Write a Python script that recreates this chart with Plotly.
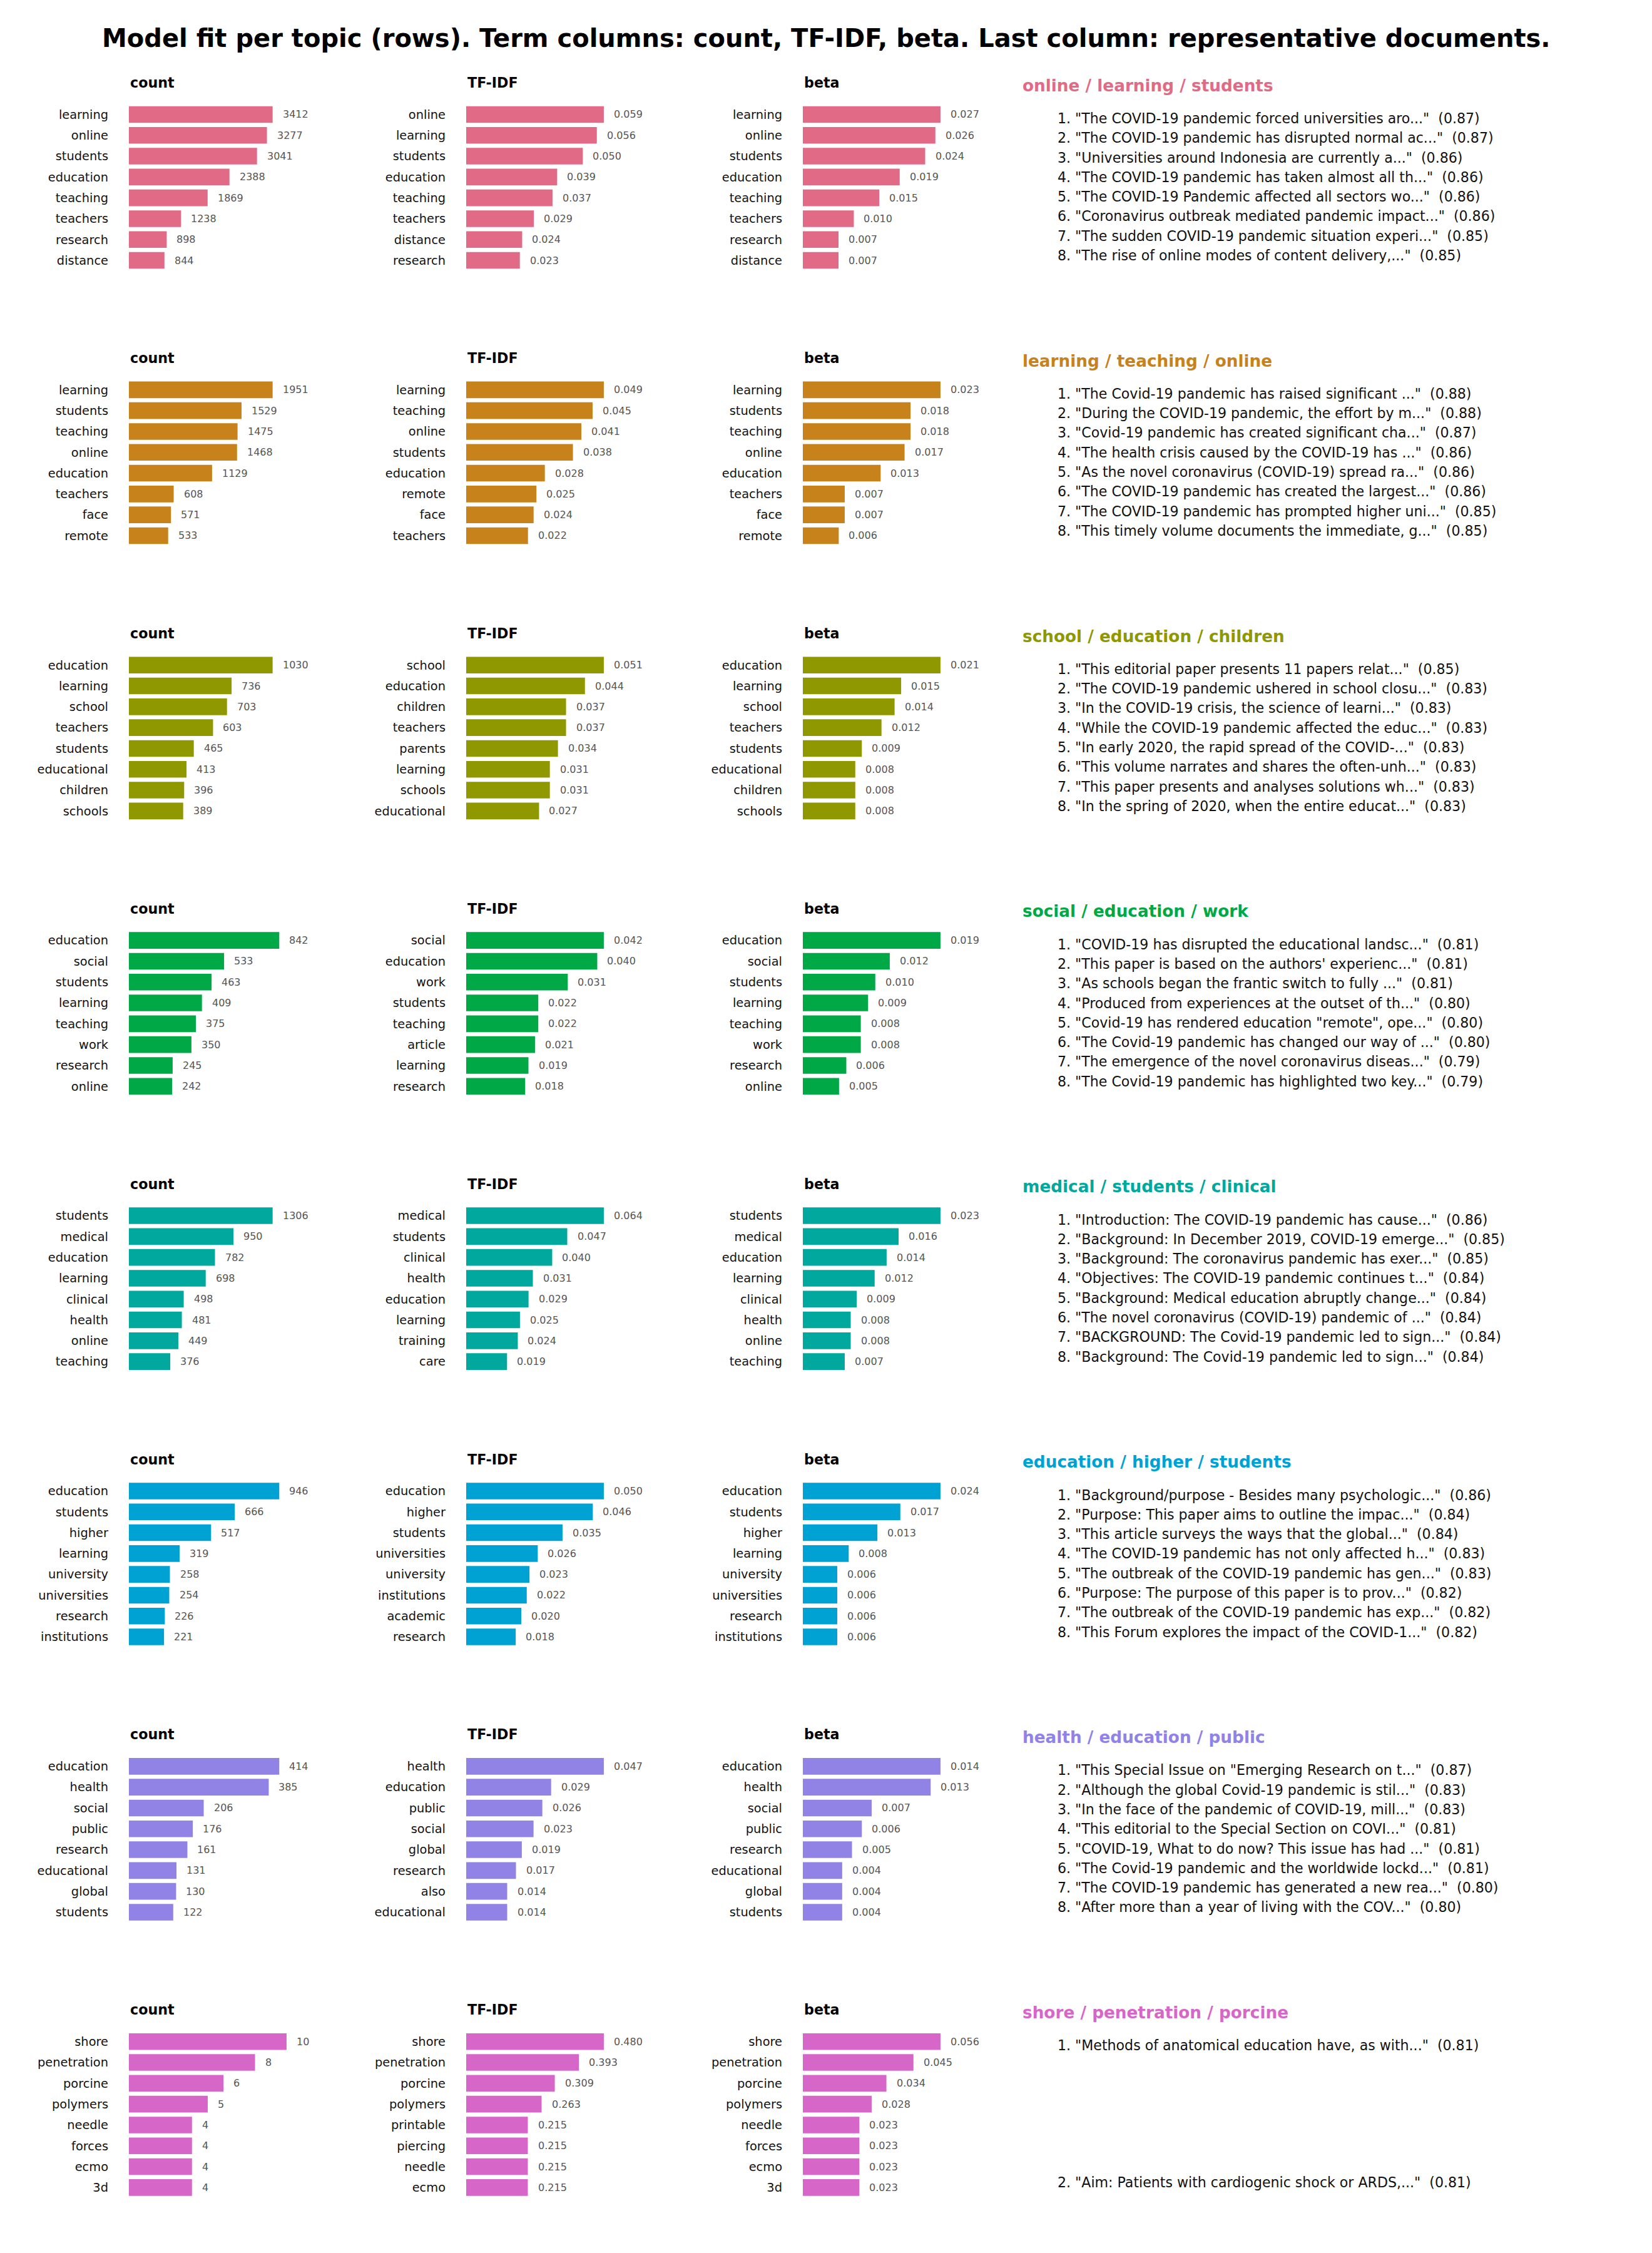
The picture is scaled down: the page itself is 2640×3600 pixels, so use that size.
import plotly.graph_objects as go

# ---------------- data ----------------
topic_labels = [
    "online / learning / students",
    "learning / teaching / online",
    "school / education / children",
    "social / education / work",
    "medical / students / clinical",
    "education / higher / students",
    "health / education / public",
    "shore / penetration / porcine",
]
topic_colors = ["#E16A86", "#C7821C", "#909800", "#00A846",
                "#00A89D", "#00A2D3", "#9183E6", "#D766C9"]

count_terms = [
    ["learning", "online", "students", "education", "teaching", "teachers", "research", "distance"],
    ["learning", "students", "teaching", "online", "education", "teachers", "face", "remote"],
    ["education", "learning", "school", "teachers", "students", "educational", "children", "schools"],
    ["education", "social", "students", "learning", "teaching", "work", "research", "online"],
    ["students", "medical", "education", "learning", "clinical", "health", "online", "teaching"],
    ["education", "students", "higher", "learning", "university", "universities", "research", "institutions"],
    ["education", "health", "social", "public", "research", "educational", "global", "students"],
    ["shore", "penetration", "porcine", "polymers", "needle", "forces", "ecmo", "3d"],
]
count_values = [
    [3412, 3277, 3041, 2388, 1869, 1238, 898, 844],
    [1951, 1529, 1475, 1468, 1129, 608, 571, 533],
    [1030, 736, 703, 603, 465, 413, 396, 389],
    [842, 533, 463, 409, 375, 350, 245, 242],
    [1306, 950, 782, 698, 498, 481, 449, 376],
    [946, 666, 517, 319, 258, 254, 226, 221],
    [414, 385, 206, 176, 161, 131, 130, 122],
    [10, 8, 6, 5, 4, 4, 4, 4],
]
tfidf_terms = [
    ["online", "learning", "students", "education", "teaching", "teachers", "distance", "research"],
    ["learning", "teaching", "online", "students", "education", "remote", "face", "teachers"],
    ["school", "education", "children", "teachers", "parents", "learning", "schools", "educational"],
    ["social", "education", "work", "students", "teaching", "article", "learning", "research"],
    ["medical", "students", "clinical", "health", "education", "learning", "training", "care"],
    ["education", "higher", "students", "universities", "university", "institutions", "academic", "research"],
    ["health", "education", "public", "social", "global", "research", "also", "educational"],
    ["shore", "penetration", "porcine", "polymers", "printable", "piercing", "needle", "ecmo"],
]
tfidf_values = [
    [0.059, 0.056, 0.050, 0.039, 0.037, 0.029, 0.024, 0.023],
    [0.049, 0.045, 0.041, 0.038, 0.028, 0.025, 0.024, 0.022],
    [0.051, 0.044, 0.037, 0.037, 0.034, 0.031, 0.031, 0.027],
    [0.042, 0.040, 0.031, 0.022, 0.022, 0.021, 0.019, 0.018],
    [0.064, 0.047, 0.040, 0.031, 0.029, 0.025, 0.024, 0.019],
    [0.050, 0.046, 0.035, 0.026, 0.023, 0.022, 0.020, 0.018],
    [0.047, 0.029, 0.026, 0.023, 0.019, 0.017, 0.014, 0.014],
    [0.480, 0.393, 0.309, 0.263, 0.215, 0.215, 0.215, 0.215],
]
beta_terms = [
    ["learning", "online", "students", "education", "teaching", "teachers", "research", "distance"],
    ["learning", "students", "teaching", "online", "education", "teachers", "face", "remote"],
    ["education", "learning", "school", "teachers", "students", "educational", "children", "schools"],
    ["education", "social", "students", "learning", "teaching", "work", "research", "online"],
    ["students", "medical", "education", "learning", "clinical", "health", "online", "teaching"],
    ["education", "students", "higher", "learning", "university", "universities", "research", "institutions"],
    ["education", "health", "social", "public", "research", "educational", "global", "students"],
    ["shore", "penetration", "porcine", "polymers", "needle", "forces", "ecmo", "3d"],
]
beta_values = [
    [0.027, 0.026, 0.024, 0.019, 0.015, 0.010, 0.007, 0.007],
    [0.023, 0.018, 0.018, 0.017, 0.013, 0.007, 0.007, 0.006],
    [0.021, 0.015, 0.014, 0.012, 0.009, 0.008, 0.008, 0.008],
    [0.019, 0.012, 0.010, 0.009, 0.008, 0.008, 0.006, 0.005],
    [0.023, 0.016, 0.014, 0.012, 0.009, 0.008, 0.008, 0.007],
    [0.024, 0.017, 0.013, 0.008, 0.006, 0.006, 0.006, 0.006],
    [0.014, 0.013, 0.007, 0.006, 0.005, 0.004, 0.004, 0.004],
    [0.056, 0.045, 0.034, 0.028, 0.023, 0.023, 0.023, 0.023],
]
doc_snippets = [
    ["The COVID-19 pandemic forced universities aro...",
     "The COVID-19 pandemic has disrupted normal ac...",
     "Universities around Indonesia are currently a...",
     "The COVID-19 pandemic has taken almost all th...",
     "The COVID-19 Pandemic affected all sectors wo...",
     "Coronavirus outbreak mediated pandemic impact...",
     "The sudden COVID-19 pandemic situation experi...",
     "The rise of online modes of content delivery,..."],
    ["The Covid-19 pandemic has raised significant ...",
     "During the COVID-19 pandemic, the effort by m...",
     "Covid-19 pandemic has created significant cha...",
     "The health crisis caused by the COVID-19 has ...",
     "As the novel coronavirus (COVID-19) spread ra...",
     "The COVID-19 pandemic has created the largest...",
     "The COVID-19 pandemic has prompted higher uni...",
     "This timely volume documents the immediate, g..."],
    ["This editorial paper presents 11 papers relat...",
     "The COVID-19 pandemic ushered in school closu...",
     "In the COVID-19 crisis, the science of learni...",
     "While the COVID-19 pandemic affected the educ...",
     "In early 2020, the rapid spread of the COVID-...",
     "This volume narrates and shares the often-unh...",
     "This paper presents and analyses solutions wh...",
     "In the spring of 2020, when the entire educat..."],
    ["COVID-19 has disrupted the educational landsc...",
     "This paper is based on the authors' experienc...",
     "As schools began the frantic switch to fully ...",
     "Produced from experiences at the outset of th...",
     'Covid-19 has rendered education "remote", ope...',
     "The Covid-19 pandemic has changed our way of ...",
     "The emergence of the novel coronavirus diseas...",
     "The Covid-19 pandemic has highlighted two key..."],
    ["Introduction: The COVID-19 pandemic has cause...",
     "Background: In December 2019, COVID-19 emerge...",
     "Background: The coronavirus pandemic has exer...",
     "Objectives: The COVID-19 pandemic continues t...",
     "Background: Medical education abruptly change...",
     "The novel coronavirus (COVID-19) pandemic of ...",
     "BACKGROUND: The Covid-19 pandemic led to sign...",
     "Background: The Covid-19 pandemic led to sign..."],
    ["Background/purpose - Besides many psychologic...",
     "Purpose: This paper aims to outline the impac...",
     "This article surveys the ways that the global...",
     "The COVID-19 pandemic has not only affected h...",
     "The outbreak of the COVID-19 pandemic has gen...",
     "Purpose: The purpose of this paper is to prov...",
     "The outbreak of the COVID-19 pandemic has exp...",
     "This Forum explores the impact of the COVID-1..."],
    ['This Special Issue on "Emerging Research on t...',
     "Although the global Covid-19 pandemic is stil...",
     "In the face of the pandemic of COVID-19, mill...",
     "This editorial to the Special Section on COVI...",
     "COVID-19, What to do now? This issue has had ...",
     "The Covid-19 pandemic and the worldwide lockd...",
     "The COVID-19 pandemic has generated a new rea...",
     "After more than a year of living with the COV..."],
    ["Methods of anatomical education have, as with...",
     "Aim: Patients with cardiogenic shock or ARDS,..."],
]
doc_scores = [
    [0.87, 0.87, 0.86, 0.86, 0.86, 0.86, 0.85, 0.85],
    [0.88, 0.88, 0.87, 0.86, 0.86, 0.86, 0.85, 0.85],
    [0.85, 0.83, 0.83, 0.83, 0.83, 0.83, 0.83, 0.83],
    [0.81, 0.81, 0.81, 0.80, 0.80, 0.80, 0.79, 0.79],
    [0.86, 0.85, 0.85, 0.84, 0.84, 0.84, 0.84, 0.84],
    [0.86, 0.84, 0.84, 0.83, 0.83, 0.82, 0.82, 0.82],
    [0.87, 0.83, 0.83, 0.81, 0.81, 0.81, 0.80, 0.80],
    [0.81, 0.81],
]
column_titles = ["count", "TF-IDF", "beta"]
main_title = ("Model fit per topic (rows). Term columns: count, TF-IDF, beta. "
              "Last column: representative documents.")

# ---------------- layout geometry (page pixels) ----------------
PAGE_W, PAGE_H = 2640, 3600
OFF = 8  # default page body margin
FW, FH = PAGE_W - 2 * OFF, PAGE_H - 2 * OFF
FONT = "DejaVu Sans"
row_top0 = 166.3
row_step = 439.9
axis_h = 266.4
col_x0 = [206, 745, 1283]
axis_w = 279
text_title_x = 1632
doc_x = 1688


def px_x(px):
    return (px - OFF) / FW


def px_y(py):
    return 1 - (py - OFF) / FH


def fmt(col, v):
    return str(int(v)) if col == 0 else f"{v:.3f}"


fig = go.Figure()
annotations = []
layout_axes = {}

for r in range(8):
    top = row_top0 + r * row_step
    color = topic_colors[r]
    cols = [(count_terms[r], count_values[r]),
            (tfidf_terms[r], tfidf_values[r]),
            (beta_terms[r], beta_values[r])]
    for c, (terms, vals) in enumerate(cols):
        idx = r * 3 + c + 1
        xa = "x" if idx == 1 else f"x{idx}"
        ya = "y" if idx == 1 else f"y{idx}"
        fig.add_trace(go.Bar(
            x=vals, y=terms, orientation="h", width=0.8,
            marker=dict(color=color, line=dict(width=0)),
            xaxis=xa, yaxis=ya, showlegend=False, hoverinfo="skip",
        ))
        vmax = max(vals)
        xmax = vmax * (1 + 0.0537 * len(fmt(c, vmax)))
        layout_axes["xaxis" if idx == 1 else f"xaxis{idx}"] = dict(
            domain=[px_x(col_x0[c]), px_x(col_x0[c] + axis_w)],
            range=[0, xmax], anchor=ya,
            showgrid=False, zeroline=False, showline=False,
            showticklabels=False, ticks="", fixedrange=True,
        )
        layout_axes["yaxis" if idx == 1 else f"yaxis{idx}"] = dict(
            domain=[px_y(top + axis_h), px_y(top)],
            anchor=xa, type="category", autorange="reversed",
            showgrid=False, zeroline=False, showline=False, ticks="",
            ticklabelstandoff=32,
            tickfont=dict(family=FONT, size=19.4, color="#111111"),
        )
        for t, v in zip(terms, vals):
            annotations.append(dict(
                x=v, y=t, xref=xa, yref=ya, text=fmt(c, v),
                showarrow=False, xanchor="left", yanchor="middle", xshift=14,
                font=dict(family=FONT, size=16, color="#555555"),
            ))
        annotations.append(dict(
            x=px_x(col_x0[c]), y=px_y(top - 34.3), xref="paper", yref="paper",
            text=f"<b>{column_titles[c]}</b>", showarrow=False,
            xanchor="left", yanchor="middle",
            font=dict(family=FONT, size=22.2, color="#000000"),
        ))
    # text column
    annotations.append(dict(
        x=px_x(text_title_x), y=px_y(top - 29.5), xref="paper", yref="paper",
        text=f"<b>{topic_labels[r]}</b>", showarrow=False,
        xanchor="left", yanchor="middle",
        font=dict(family=FONT, size=26.3, color=color),
    ))
    n = len(doc_snippets[r])
    y_first, y_last = top + 22.7, top + 241.7
    for i, (s, sc) in enumerate(zip(doc_snippets[r], doc_scores[r])):
        yy = y_first + (y_last - y_first) * (i / (n - 1) if n > 1 else 0)
        annotations.append(dict(
            x=px_x(doc_x), y=px_y(yy), xref="paper", yref="paper",
            text=f'{i + 1}. "{s}"\u00a0\u00a0({sc:.2f})', showarrow=False,
            xanchor="left", yanchor="middle",
            font=dict(family=FONT, size=22.1, color="#111111"),
        ))

annotations.append(dict(
    x=px_x(PAGE_W / 2), y=px_y(61), xref="paper", yref="paper",
    text=f"<b>{main_title}</b>", showarrow=False,
    xanchor="center", yanchor="middle",
    font=dict(family=FONT, size=40, color="#000000"),
))

fig.update_layout(
    width=FW, height=FH,
    margin=dict(l=0, r=0, t=0, b=0),
    paper_bgcolor="white", plot_bgcolor="white",
    annotations=annotations, showlegend=False, bargap=0.2,
    **layout_axes,
)

fig.write_html("out.html")
